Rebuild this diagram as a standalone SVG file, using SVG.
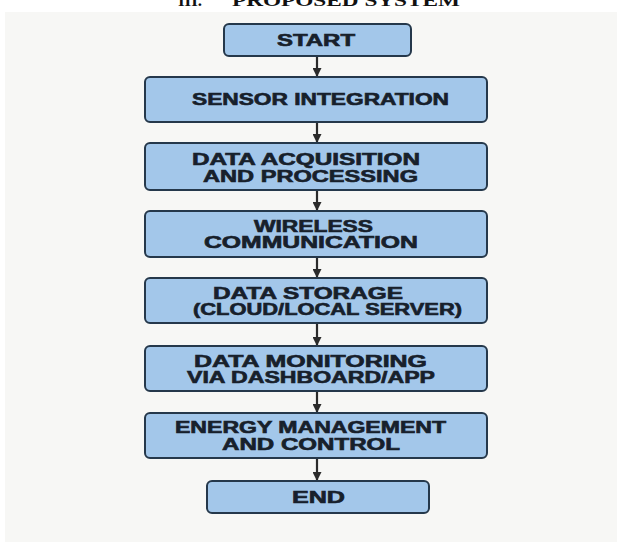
<svg xmlns="http://www.w3.org/2000/svg" width="617" height="543" viewBox="0 0 617 543">
  <defs>
    <marker id="arrow" viewBox="0 0 10 10" refX="10" refY="5" markerWidth="10" markerHeight="9" markerUnits="userSpaceOnUse" orient="auto">
      <path d="M0,0 L10,5 L0,10 Z" fill="#2b2b2b"/>
    </marker>
  </defs>
  <style>
    .box { fill: #a3c7ea; stroke: #25384b; stroke-width: 2; }
    .lbl { font-family: "Liberation Sans", Arial, sans-serif; font-weight: bold; font-size: 16px; fill: #17202b; stroke: #17202b; stroke-width: 0.6; }
    .edge { stroke: #2b2b2b; stroke-width: 2.2; fill: none; marker-end: url(#arrow); }
    .title { font-family: "Liberation Serif", "Times New Roman", serif; font-weight: bold; font-size: 17px; fill: #111; }
  </style>

  <!-- page backdrop -->
  <rect x="0" y="0" width="617" height="543" fill="#ffffff"/>
  <rect x="5" y="12" width="612" height="530" fill="#f7f7f5"/>

  <!-- section heading, cut at the top edge -->
  <text class="title" y="6"><tspan x="178">III.</tspan><tspan x="232" textLength="228" lengthAdjust="spacingAndGlyphs">PROPOSED SYSTEM</tspan></text>

  <!-- connectors -->
  <g id="connectors">
    <line class="edge" x1="317" y1="56" x2="317" y2="77"/>
    <line class="edge" x1="317" y1="122" x2="317" y2="143"/>
    <line class="edge" x1="317" y1="190" x2="317" y2="211"/>
    <line class="edge" x1="317" y1="257" x2="317" y2="278"/>
    <line class="edge" x1="317" y1="323" x2="317" y2="346"/>
    <line class="edge" x1="317" y1="391" x2="317" y2="413"/>
    <line class="edge" x1="317" y1="458" x2="317" y2="481"/>
  </g>

  <g id="start">
    <rect class="box" x="224" y="24" width="187" height="32" rx="5"/>
    <text class="lbl" x="277" y="46" textLength="78" lengthAdjust="spacingAndGlyphs">START</text>
  </g>

  <g id="sensor-integration">
    <rect class="box" x="145" y="77" width="342" height="45" rx="5"/>
    <text class="lbl" x="192" y="105" textLength="257" lengthAdjust="spacingAndGlyphs">SENSOR INTEGRATION</text>
  </g>

  <g id="data-acquisition">
    <rect class="box" x="145" y="143" width="342" height="47" rx="5"/>
    <text class="lbl" x="192" y="165" textLength="228" lengthAdjust="spacingAndGlyphs">DATA ACQUISITION</text>
    <text class="lbl" x="203" y="182" textLength="215" lengthAdjust="spacingAndGlyphs">AND PROCESSING</text>
  </g>

  <g id="wireless-communication">
    <rect class="box" x="145" y="211" width="342" height="46" rx="5"/>
    <text class="lbl" x="254" y="232" textLength="119" lengthAdjust="spacingAndGlyphs">WIRELESS</text>
    <text class="lbl" x="204" y="248" textLength="214" lengthAdjust="spacingAndGlyphs">COMMUNICATION</text>
  </g>

  <g id="data-storage">
    <rect class="box" x="145" y="278" width="342" height="45" rx="5"/>
    <text class="lbl" x="213" y="299" textLength="190" lengthAdjust="spacingAndGlyphs">DATA STORAGE</text>
    <text class="lbl" x="193" y="315" textLength="269" lengthAdjust="spacingAndGlyphs">(CLOUD/LOCAL SERVER)</text>
  </g>

  <g id="data-monitoring">
    <rect class="box" x="145" y="346" width="342" height="45" rx="5"/>
    <text class="lbl" x="194" y="367" textLength="233" lengthAdjust="spacingAndGlyphs">DATA MONITORING</text>
    <text class="lbl" x="187" y="383" textLength="248" lengthAdjust="spacingAndGlyphs">VIA DASHBOARD/APP</text>
  </g>

  <g id="energy-management">
    <rect class="box" x="145" y="413" width="342" height="45" rx="5"/>
    <text class="lbl" x="175" y="433" textLength="271" lengthAdjust="spacingAndGlyphs">ENERGY MANAGEMENT</text>
    <text class="lbl" x="222" y="450" textLength="178" lengthAdjust="spacingAndGlyphs">AND CONTROL</text>
  </g>

  <g id="end">
    <rect class="box" x="207" y="481" width="222" height="32" rx="5"/>
    <text class="lbl" x="292" y="503" textLength="53" lengthAdjust="spacingAndGlyphs">END</text>
  </g>
</svg>
